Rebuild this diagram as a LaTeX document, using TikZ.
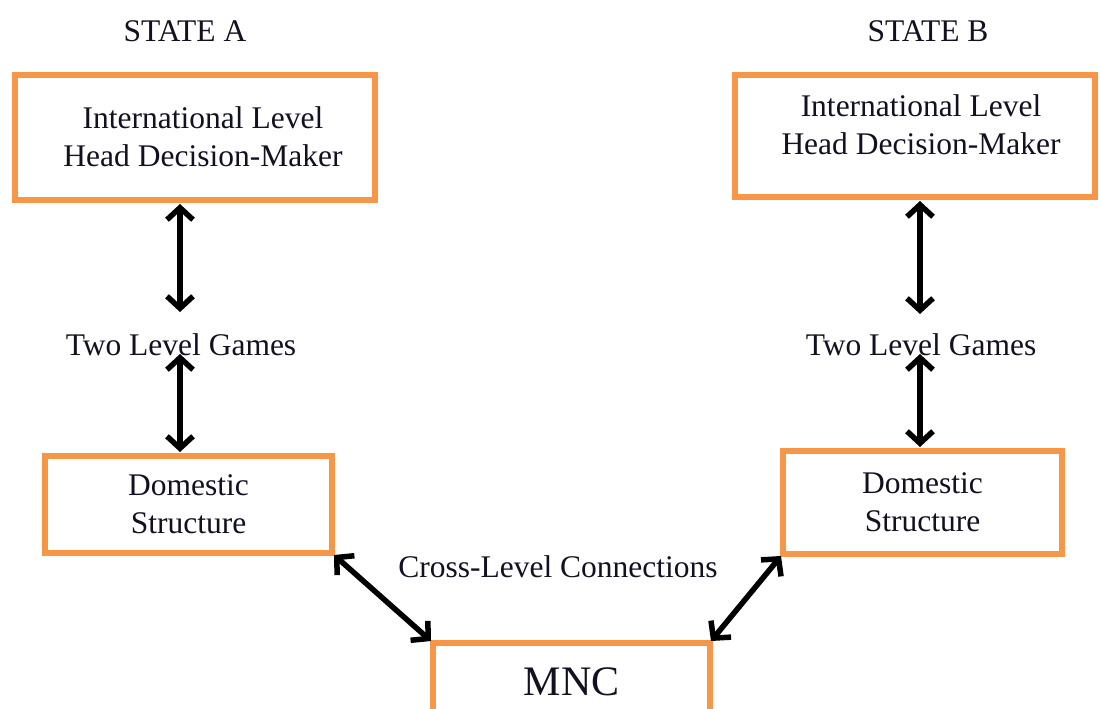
\documentclass[tikz,border=0pt]{standalone}
\usepackage{fontspec}
\setmainfont{Liberation Serif}
\usetikzlibrary{arrows.meta}
\definecolor{boxorange}{HTML}{F79646}
\definecolor{inkblack}{HTML}{111122}
\begin{document}
\begin{tikzpicture}[x=1pt,y=-1pt,
  box/.style={draw=boxorange, line width=6pt, rectangle, inner sep=0pt},
  txt/.style={font=\fontsize{31.5}{38}\selectfont, align=center, text=inkblack, inner sep=0pt},
  arr/.style={draw=black, line width=5.5pt, {Straight Barb[length=12pt,width=26pt]}-{Straight Barb[length=12pt,width=26pt]}}]
\clip (0,0) rectangle (1100,709);
\fill[white] (0,0) rectangle (1100,709);
% titles
\node[txt] (stateA) at (185,31) {STATE A};
\node[txt] (stateB) at (928,31) {STATE B};
% top boxes
\node[box, minimum width=360pt, minimum height=125pt] (intA) at (195,137.5) {};
\node[txt] (intAt) at (203,137) {International Level\\Head Decision-Maker};
\node[box, minimum width=360pt, minimum height=122pt] (intB) at (915,136) {};
\node[txt] (intBt) at (921,125) {International Level\\Head Decision-Maker};
% two level games
\node[txt] (twoA) at (181,345) {Two Level Games};
\node[txt] (twoB) at (921,345) {Two Level Games};
% domestic boxes
\node[box, txt, minimum width=287pt, minimum height=97pt] (domA) at (188.5,504.5) {Domestic\\Structure};
\node[box, txt, minimum width=279pt, minimum height=103pt] (domB) at (922.5,502.5) {Domestic\\Structure};
% cross-level
\node[txt] (cross) at (558,567) {Cross-Level Connections};
% MNC
\node[box, txt, font=\fontsize{42}{50}\selectfont, minimum width=277pt, minimum height=78pt] (mnc) at (571.5,682) {MNC};
% arrows
\draw[arr] ([yshift=-1pt]intA.south -| 180,0) -- (180,312);
\draw[arr] (180,354) -- ([yshift=1pt]domA.north -| 180,0);
\draw[arr] ([yshift=-1pt]intB.south -| 920,0) -- (920,314);
\draw[arr] (920,354) -- ([yshift=1pt]domB.north -| 920,0);
\draw[arr] ([shift={(-1pt,1pt)}]domA.south east) -- ([shift={(1pt,-1pt)}]mnc.north west);
\draw[arr] ([shift={(-2pt,-1pt)}]mnc.north east) -- ([shift={(1pt,1pt)}]domB.south west);
\end{tikzpicture}
\end{document}
